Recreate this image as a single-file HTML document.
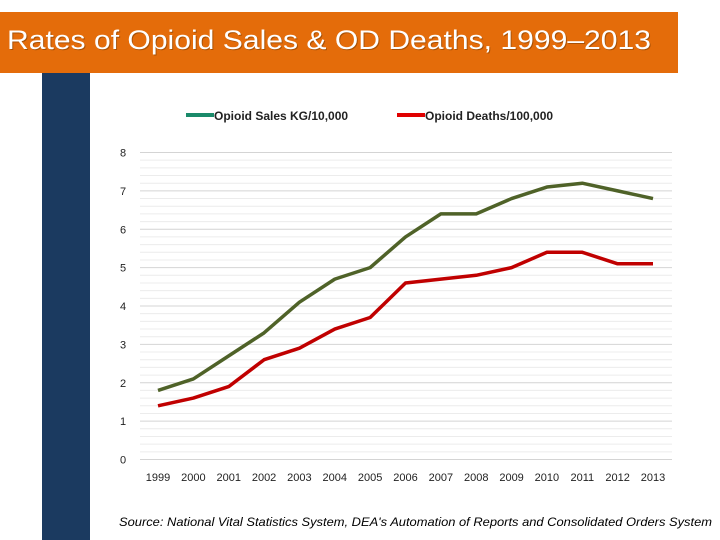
<!DOCTYPE html>
<html><head><meta charset="utf-8"><style>
html,body{margin:0;padding:0;background:#fff;}
svg{display:block;font-family:"Liberation Sans",sans-serif;}
</style></head><body>
<svg width="720" height="540" viewBox="0 0 720 540">
<rect x="0" y="12" width="678" height="61" fill="#e46c0a"/>
<text x="8" y="50" font-size="27" fill="#3a2000" opacity="0.35" textLength="644" lengthAdjust="spacingAndGlyphs">Rates of Opioid Sales &amp; OD Deaths, 1999–2013</text>
<text x="7" y="49" font-size="27" fill="#fff" textLength="644" lengthAdjust="spacingAndGlyphs">Rates of Opioid Sales &amp; OD Deaths, 1999–2013</text>
<rect x="42" y="73" width="48" height="467" fill="#1b3a60"/>
<g>
<line x1="186" y1="115" x2="214" y2="115" stroke="#1a8a6a" stroke-width="4"/>
<text x="214" y="120" font-size="12" font-weight="bold" fill="#222">Opioid Sales KG/10,000</text>
<line x1="397" y1="115" x2="425" y2="115" stroke="#e00000" stroke-width="4"/>
<text x="425" y="120" font-size="12" font-weight="bold" fill="#222">Opioid Deaths/100,000</text>
</g>
<g id="grid"></g><g id="yt"></g><g id="xt"></g><g id="lines"></g>
<text x="119" y="526" font-size="12" font-style="italic" fill="#000" textLength="593" lengthAdjust="spacingAndGlyphs">Source: National Vital Statistics System, DEA's Automation of Reports and Consolidated Orders System</text>
</svg>
<script>
const years=[1999,2000,2001,2002,2003,2004,2005,2006,2007,2008,2009,2010,2011,2012,2013];
const salesValues=[1.8,2.1,2.7,3.3,4.1,4.7,5.0,5.8,6.4,6.4,6.8,7.1,7.2,7.0,6.8];
const deathValues=[1.4,1.6,1.9,2.6,2.9,3.4,3.7,4.6,4.7,4.8,5.0,5.4,5.4,5.1,5.1];
const yTicks=[0,1,2,3,4,5,6,7,8];
const NS='http://www.w3.org/2000/svg';
const x0=158,x1=653,y0=459.5,y8=152.5;
const xs=i=>x0+(x1-x0)*i/(years.length-1);
const ys=v=>y0+(y8-y0)*v/8;
function mk(t,a,p){const e=document.createElementNS(NS,t);for(const k in a)e.setAttribute(k,a[k]);p.appendChild(e);return e;}
const grid=document.getElementById('grid');
for(let k=0;k<=40;k++){const v=k/5;
 const l=mk('line',{x1:140,x2:672,y1:ys(v),y2:ys(v),stroke:k%5===0?'#d4d4d4':'#ececec','stroke-width':1},grid);
 
 }
const yt=document.getElementById('yt');
yTicks.forEach(v=>{const t=mk('text',{x:123,y:ys(v)+4,'font-size':11,fill:'#222','text-anchor':'middle'},yt);t.textContent=v;
 
 });
const xt=document.getElementById('xt');
years.forEach((y,i)=>{const t=mk('text',{x:xs(i),y:481,'font-size':11,fill:'#222','text-anchor':'middle'},xt);t.textContent=y;
 
 });
const lines=document.getElementById('lines');
function series(vals,color,name){const p=mk('polyline',{points:vals.map((v,i)=>xs(i)+','+ys(v)).join(' '),fill:'none',stroke:color,'stroke-width':3.5,'stroke-linejoin':'round'},lines);
 
 }
series(salesValues,'#4f6228','sales-line');
series(deathValues,'#c00000','deaths-line');
</script>
</body></html>
